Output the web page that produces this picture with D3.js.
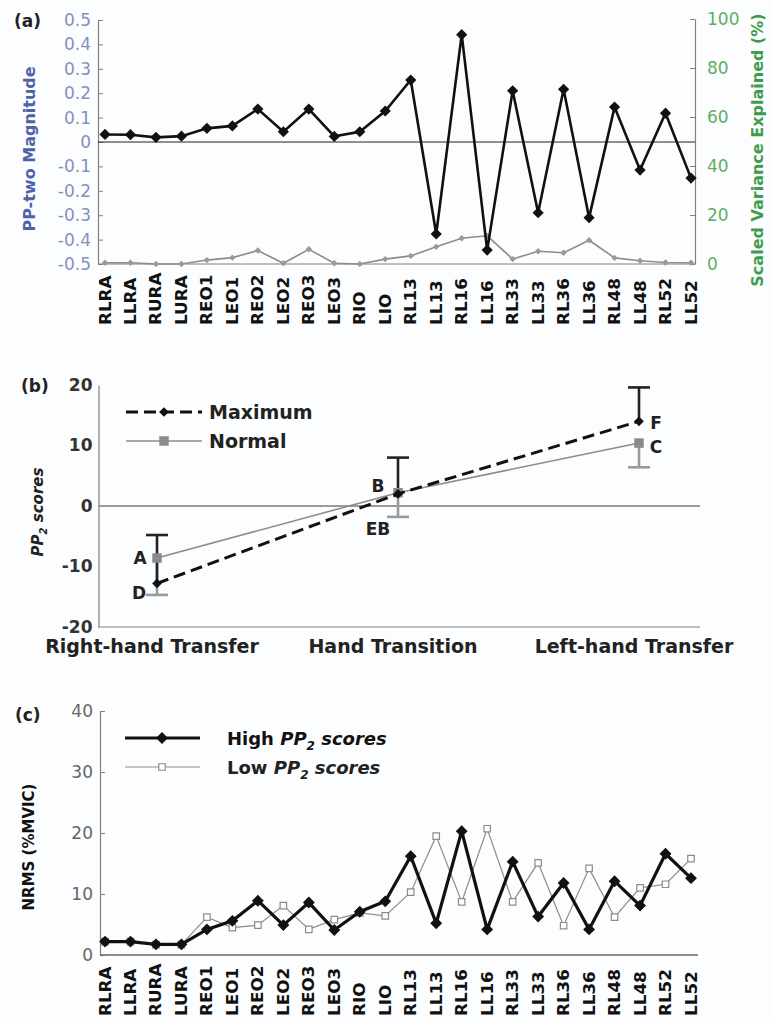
<!DOCTYPE html>
<html>
<head>
<meta charset="utf-8">
<script src="https://cdn.jsdelivr.net/npm/d3@7"></script>
<style>
  body { margin: 0; background: #fcfdff; }
  text { font-family: "DejaVu Sans", sans-serif; }
</style>
</head>
<body>
<svg id="chart" width="771" height="1018"></svg>
<script>
var muscles = ['RLRA', 'LLRA', 'RURA', 'LURA', 'REO1', 'LEO1', 'REO2', 'LEO2', 'REO3', 'LEO3', 'RIO', 'LIO',
  'RL13', 'LL13', 'RL16', 'LL16', 'RL33', 'LL33', 'RL36', 'LL36', 'RL48', 'LL48', 'RL52', 'LL52'];
// (a) PP-two magnitude and scaled variance explained (%)
var ppTwo = [0.031, 0.03, 0.019, 0.024, 0.056, 0.066, 0.135, 0.042, 0.135, 0.023, 0.042, 0.127,
  0.254, -0.377, 0.44, -0.443, 0.21, -0.29, 0.216, -0.31, 0.143, -0.115, 0.118, -0.148];
var varExplained = [0.5, 0.5, 0, 0, 1.6, 2.6, 5.5, 0.3, 6, 0.3, 0, 2,
  3.3, 7, 10.5, 11.5, 2, 5.2, 4.6, 9.7, 2.5, 1.3, 0.6, 0.5];
// (b) PP2 scores per task
var tasks = ['Right-hand Transfer', 'Hand Transition', 'Left-hand Transfer'];
var maxScores = [-12.8, 2, 14];
var maxSd = [8, 6, 5.6];
var normScores = [-8.6, 2.2, 10.4];
var normSd = [6.1, 4, 4];
var maxLabels = ['D', 'EB', 'F'];
var normLabels = ['A', 'B', 'C'];
// (c) NRMS (%MVIC)
var highNrms = [2.2, 2.2, 1.75, 1.75, 4.2, 5.6, 8.9, 4.9, 8.6, 4.1, 7.1, 8.8,
  16.2, 5.2, 20.3, 4.2, 15.3, 6.3, 11.8, 4.2, 12.1, 8.1, 16.6, 12.6];
var lowNrms = [2.2, 2.2, 1.7, 1.7, 6.2, 4.5, 4.9, 8.1, 4.2, 5.8, 6.9, 6.4,
  10.3, 19.5, 8.7, 20.7, 8.7, 15.1, 4.8, 14.2, 6.2, 11, 11.6, 15.8];

var svg = d3.select('#chart');
var axisGray = '#808080';
var diamond = s => d3.symbol(d3.symbolDiamond2, s)();
var square = s => d3.symbol(d3.symbolSquare, s)();

var x = d3.scalePoint(muscles, [105, 691]);

function styleAxis(g, color, size, weight) {
  g.attr('font-family', 'DejaVu Sans').attr('font-size', size).attr('font-weight', weight || 'normal');
  g.select('.domain').attr('stroke', axisGray).attr('stroke-width', 1.2);
  g.selectAll('.tick line').attr('stroke', axisGray);
  g.selectAll('.tick text').attr('fill', color);
}

function muscleLabels(g, y0) {
  g.selectAll('text.m').data(muscles).join('text')
    .attr('class', 'm')
    .attr('transform', d => `translate(${x(d) + 5.5},${y0}) rotate(-90) scale(1.12,1)`)
    .attr('font-size', 15).attr('font-weight', 'bold').attr('fill', '#111')
    .text(d => d);
}

function panelTag(t, px, py) {
  svg.append('text').attr('x', px).attr('y', py).attr('font-size', 17).attr('font-weight', 'bold')
    .attr('fill', '#222').text(t);
}

// ---------- panel (a)
var ya = d3.scaleLinear([-0.5, 0.5], [264, 20]);
var yr = d3.scaleLinear([0, 100], [264, 19]);
var ga = svg.append('g');

ga.append('g').attr('transform', 'translate(98,0)')
  .call(d3.axisLeft(ya).tickValues(d3.range(-5, 6).map(d => d / 10)).tickSize(-5).tickSizeOuter(0)
    .tickPadding(7).tickFormat(d => d === 0 ? '0' : d.toFixed(1)))
  .call(g => styleAxis(g, '#8490bd', 17));

ga.append('g').attr('transform', 'translate(695,0)')
  .call(d3.axisRight(yr).tickValues([0, 20, 40, 60, 80, 100]).tickSize(-5).tickSizeOuter(0).tickPadding(12))
  .call(g => styleAxis(g, '#5fae62', 17));

ga.append('line').attr('x1', 98).attr('x2', 695).attr('y1', ya(-0.5)).attr('y2', ya(-0.5))
  .attr('stroke', axisGray).attr('stroke-width', 1.2);
ga.append('line').attr('x1', 98).attr('x2', 695).attr('y1', ya(0)).attr('y2', ya(0))
  .attr('stroke', '#222').attr('stroke-width', 1);

ga.append('text').attr('transform', 'translate(29,149) rotate(-90)').attr('text-anchor', 'middle')
  .attr('dy', '0.35em').attr('font-size', 16).attr('font-weight', 'bold').attr('fill', '#4d62a8')
  .text('PP-two Magnitude');
ga.append('text').attr('transform', 'translate(757,150) rotate(-90)').attr('text-anchor', 'middle')
  .attr('dy', '0.35em').attr('font-size', 16).attr('font-weight', 'bold').attr('fill', '#3f9c4c')
  .text('Scaled Variance Explained (%)');

// variance explained (gray, right axis)
ga.append('path').datum(varExplained)
  .attr('d', d3.line((d, i) => x(muscles[i]), d => yr(d)))
  .attr('fill', 'none').attr('stroke', '#8c8c8c').attr('stroke-width', 1.6);
ga.selectAll('path.gv').data(varExplained).join('path').attr('class', 'gv')
  .attr('transform', (d, i) => `translate(${x(muscles[i])},${yr(d)})`)
  .attr('d', diamond(26)).attr('fill', '#999');

// PP-two magnitude (black, left axis)
ga.append('path').datum(ppTwo)
  .attr('d', d3.line((d, i) => x(muscles[i]), d => ya(d)))
  .attr('fill', 'none').attr('stroke', '#111').attr('stroke-width', 2.6);
ga.selectAll('path.pv').data(ppTwo).join('path').attr('class', 'pv')
  .attr('transform', (d, i) => `translate(${x(muscles[i])},${ya(d)})`)
  .attr('d', diamond(80)).attr('fill', '#111');

muscleLabels(ga, 325);
panelTag('(a)', 14, 27);

// ---------- panel (b)
var xb = d3.scalePoint(tasks, [157, 639]);
var yb = d3.scaleLinear([-20, 20], [627, 385]);
var gb = svg.append('g');

gb.append('g').attr('transform', 'translate(98.5,0)')
  .call(d3.axisLeft(yb).tickValues([-20, -10, 0, 10, 20]).tickSize(0).tickPadding(6)
    .tickFormat(d => String(d)))
  .call(g => styleAxis(g, '#333', 17, 'bold'));
gb.append('line').attr('x1', 98).attr('x2', 700).attr('y1', yb(-20)).attr('y2', yb(-20))
  .attr('stroke', axisGray).attr('stroke-width', 1.2);
gb.append('line').attr('x1', 98).attr('x2', 700).attr('y1', yb(0)).attr('y2', yb(0))
  .attr('stroke', '#9a9a9a').attr('stroke-width', 2);

gb.selectAll('text.task').data(tasks).join('text').attr('class', 'task')
  .attr('x', d => xb(d) - 5).attr('y', 653).attr('text-anchor', 'middle')
  .attr('font-size', 19).attr('font-weight', 'bold').attr('fill', '#222').text(d => d);

var ylab = gb.append('text').attr('transform', 'translate(38,512) rotate(-90)').attr('text-anchor', 'middle')
  .attr('dy', '0.35em').attr('font-size', 15).attr('font-weight', 'bold').attr('font-style', 'italic')
  .attr('fill', '#222');
ylab.append('tspan').text('PP');
ylab.append('tspan').attr('font-size', 10).attr('dy', 4).text('2');
ylab.append('tspan').attr('dy', -4).text(' scores');

// error bars: Normal downward (gray), Maximum upward (black)
function errBars(vals, sds, sign, color) {
  var g = gb.append('g').attr('stroke', color).attr('stroke-width', 2.6);
  g.selectAll('line.v').data(vals).join('line')
    .attr('x1', (d, i) => xb(tasks[i])).attr('x2', (d, i) => xb(tasks[i]))
    .attr('y1', d => yb(d)).attr('y2', (d, i) => yb(d + sign * sds[i]));
  g.selectAll('line.c').data(vals).join('line')
    .attr('x1', (d, i) => xb(tasks[i]) - 11).attr('x2', (d, i) => xb(tasks[i]) + 11)
    .attr('y1', (d, i) => yb(d + sign * sds[i])).attr('y2', (d, i) => yb(d + sign * sds[i]));
}
errBars(normScores, normSd, -1, '#9a9a9a');
errBars(maxScores, maxSd, 1, '#222');

gb.append('path').datum(normScores)
  .attr('d', d3.line((d, i) => xb(tasks[i]), d => yb(d)))
  .attr('fill', 'none').attr('stroke', '#8c8c8c').attr('stroke-width', 1.6);
gb.selectAll('path.nm').data(normScores).join('path').attr('class', 'nm')
  .attr('transform', (d, i) => `translate(${xb(tasks[i])},${yb(d)})`)
  .attr('d', square(90)).attr('fill', '#8a8a8a');

gb.append('path').datum(maxScores)
  .attr('d', d3.line((d, i) => xb(tasks[i]), d => yb(d)))
  .attr('fill', 'none').attr('stroke', '#111').attr('stroke-width', 3).attr('stroke-dasharray', '12,6');
gb.selectAll('path.mx').data(maxScores).join('path').attr('class', 'mx')
  .attr('transform', (d, i) => `translate(${xb(tasks[i])},${yb(d)})`)
  .attr('d', diamond(60)).attr('fill', '#111');

// point letters
var letterStyle = s => s.attr('font-size', 17).attr('font-weight', 'bold').attr('fill', '#222');
gb.append('text').attr('x', xb(tasks[0]) - 17).attr('y', yb(normScores[0])).attr('dy', '0.35em')
  .attr('text-anchor', 'middle').call(letterStyle).text(normLabels[0]);
gb.append('text').attr('x', xb(tasks[0]) - 18).attr('y', yb(maxScores[0]) + 10).attr('dy', '0.35em')
  .attr('text-anchor', 'middle').call(letterStyle).text(maxLabels[0]);
gb.append('text').attr('x', xb(tasks[1]) - 20).attr('y', yb(normScores[1]) - 7).attr('dy', '0.35em')
  .attr('text-anchor', 'middle').call(letterStyle).text(normLabels[1]);
gb.append('text').attr('x', xb(tasks[1]) - 20).attr('y', yb(maxScores[1]) + 35).attr('dy', '0.35em')
  .attr('text-anchor', 'middle').call(letterStyle).text(maxLabels[1]);
gb.append('text').attr('x', xb(tasks[2]) + 17).attr('y', yb(maxScores[2]) + 2).attr('dy', '0.35em')
  .attr('text-anchor', 'middle').call(letterStyle).text(maxLabels[2]);
gb.append('text').attr('x', xb(tasks[2]) + 17).attr('y', yb(normScores[2]) + 4).attr('dy', '0.35em')
  .attr('text-anchor', 'middle').call(letterStyle).text(normLabels[2]);

// legend (b)
gb.append('line').attr('x1', 126).attr('x2', 202).attr('y1', 412).attr('y2', 412)
  .attr('stroke', '#111').attr('stroke-width', 3).attr('stroke-dasharray', '12,6');
gb.append('path').attr('transform', 'translate(164,412)').attr('d', diamond(60)).attr('fill', '#111');
gb.append('text').attr('x', 209).attr('y', 419).attr('font-size', 19).attr('font-weight', 'bold')
  .attr('fill', '#222').text('Maximum');
gb.append('line').attr('x1', 126).attr('x2', 202).attr('y1', 441).attr('y2', 441)
  .attr('stroke', '#8c8c8c').attr('stroke-width', 1.6);
gb.append('path').attr('transform', 'translate(164,441)').attr('d', square(90)).attr('fill', '#8a8a8a');
gb.append('text').attr('x', 209).attr('y', 448).attr('font-size', 19).attr('font-weight', 'bold')
  .attr('fill', '#222').text('Normal');

panelTag('(b)', 21, 392);

// ---------- panel (c)
var yc = d3.scaleLinear([0, 40], [955, 711]);
var gc = svg.append('g');

gc.append('g').attr('transform', 'translate(100,0)')
  .call(d3.axisLeft(yc).tickValues([0, 10, 20, 30, 40]).tickSize(-5).tickSizeOuter(0).tickPadding(7))
  .call(g => styleAxis(g, '#666', 17));
gc.append('line').attr('x1', 100).attr('x2', 698).attr('y1', yc(0)).attr('y2', yc(0))
  .attr('stroke', '#666').attr('stroke-width', 1.5);

gc.append('text').attr('transform', 'translate(29,847) rotate(-90)').attr('text-anchor', 'middle')
  .attr('dy', '0.35em').attr('font-size', 15).attr('font-weight', 'bold').attr('fill', '#111')
  .text('NRMS (%MVIC)');

gc.append('path').datum(lowNrms)
  .attr('d', d3.line((d, i) => x(muscles[i]), d => yc(d)))
  .attr('fill', 'none').attr('stroke', '#8c8c8c').attr('stroke-width', 1.2);
gc.selectAll('path.lo').data(lowNrms).join('path').attr('class', 'lo')
  .attr('transform', (d, i) => `translate(${x(muscles[i])},${yc(d)})`)
  .attr('d', square(42)).attr('fill', '#fff').attr('stroke', '#8c8c8c').attr('stroke-width', 1.2);

gc.append('path').datum(highNrms)
  .attr('d', d3.line((d, i) => x(muscles[i]), d => yc(d)))
  .attr('fill', 'none').attr('stroke', '#111').attr('stroke-width', 3.2);
gc.selectAll('path.hi').data(highNrms).join('path').attr('class', 'hi')
  .attr('transform', (d, i) => `translate(${x(muscles[i])},${yc(d)})`)
  .attr('d', diamond(90)).attr('fill', '#111');

// legend (c)
function legendText(g, px, py, pre, color) {
  var t = g.append('text').attr('x', px).attr('y', py).attr('font-size', 18).attr('font-weight', 'bold')
    .attr('fill', color);
  t.append('tspan').text(pre + ' ');
  t.append('tspan').attr('font-style', 'italic').text('PP');
  t.append('tspan').attr('font-style', 'italic').attr('font-size', 12).attr('dy', 5).text('2');
  t.append('tspan').attr('font-style', 'italic').attr('dy', -5).text(' scores');
}
gc.append('line').attr('x1', 125).attr('x2', 200).attr('y1', 738).attr('y2', 738)
  .attr('stroke', '#111').attr('stroke-width', 3.2);
gc.append('path').attr('transform', 'translate(162,738)').attr('d', diamond(90)).attr('fill', '#111');
legendText(gc, 227, 745, 'High', '#111');
gc.append('line').attr('x1', 125).attr('x2', 200).attr('y1', 767).attr('y2', 767)
  .attr('stroke', '#8c8c8c').attr('stroke-width', 1.2);
gc.append('path').attr('transform', 'translate(162,767)').attr('d', square(42))
  .attr('fill', '#fff').attr('stroke', '#8c8c8c').attr('stroke-width', 1.2);
legendText(gc, 227, 774, 'Low', '#222');

muscleLabels(gc, 1016);
panelTag('(c)', 15, 721);
</script>
</body>
</html>
